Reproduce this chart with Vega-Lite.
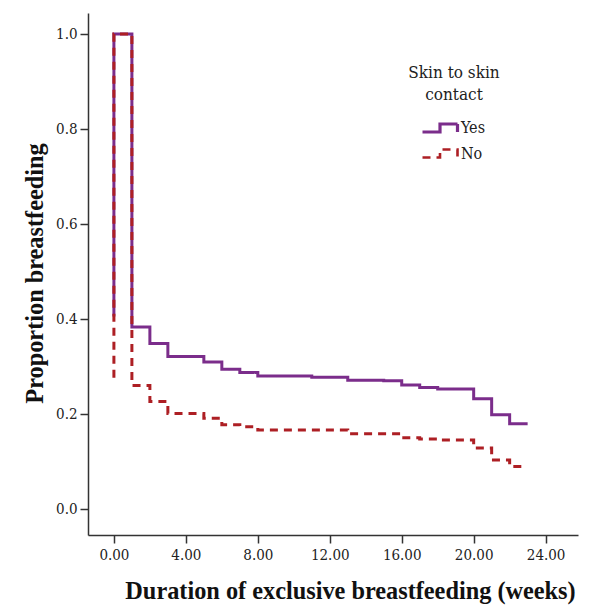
{
  "$schema": "https://vega.github.io/schema/vega-lite/v6.json",
  "autosize": "none",
  "width": 490,
  "height": 522,
  "padding": {"left": 88, "top": 13, "right": 16, "bottom": 71},
  "background": "white",
  "config": {
    "view": {"stroke": null},
    "axis": {"grid": false, "domainColor": "#333333", "tickColor": "#333333", "domainWidth": 1.5, "tickWidth": 1.5, "tickSize": 8,
      "labelFont": "DejaVu Serif Condensed, DejaVu Serif", "labelFontSize": 15, "labelColor": "#222222",
      "titleFont": "Liberation Serif", "titleFontSize": 24.3, "titleFontWeight": "bold", "titleColor": "#111111"}
  },
  "data": {"values": [
    {"g": "Yes", "i": 1, "t": 0, "p": 0.405},
    {"g": "Yes", "i": 2, "t": 0, "p": 1.0},
    {"g": "Yes", "i": 3, "t": 1, "p": 0.383},
    {"g": "Yes", "i": 4, "t": 2, "p": 0.348},
    {"g": "Yes", "i": 5, "t": 3, "p": 0.321},
    {"g": "Yes", "i": 6, "t": 5, "p": 0.309},
    {"g": "Yes", "i": 7, "t": 6, "p": 0.294},
    {"g": "Yes", "i": 8, "t": 7, "p": 0.287},
    {"g": "Yes", "i": 9, "t": 8, "p": 0.28},
    {"g": "Yes", "i": 10, "t": 11, "p": 0.277},
    {"g": "Yes", "i": 11, "t": 13, "p": 0.271},
    {"g": "Yes", "i": 12, "t": 15, "p": 0.2695},
    {"g": "Yes", "i": 13, "t": 16, "p": 0.261},
    {"g": "Yes", "i": 14, "t": 17, "p": 0.2555},
    {"g": "Yes", "i": 15, "t": 18, "p": 0.2526},
    {"g": "Yes", "i": 16, "t": 20, "p": 0.232},
    {"g": "Yes", "i": 17, "t": 21, "p": 0.198},
    {"g": "Yes", "i": 18, "t": 22, "p": 0.179},
    {"g": "Yes", "i": 19, "t": 23, "p": 0.179},
    {"g": "No", "i": 1, "t": 0, "p": 0.276},
    {"g": "No", "i": 2, "t": 0, "p": 1.0},
    {"g": "No", "i": 3, "t": 1, "p": 0.26},
    {"g": "No", "i": 4, "t": 2, "p": 0.226},
    {"g": "No", "i": 5, "t": 3, "p": 0.201},
    {"g": "No", "i": 6, "t": 5, "p": 0.191},
    {"g": "No", "i": 7, "t": 6, "p": 0.177},
    {"g": "No", "i": 8, "t": 7, "p": 0.173},
    {"g": "No", "i": 9, "t": 8, "p": 0.166},
    {"g": "No", "i": 10, "t": 13, "p": 0.158},
    {"g": "No", "i": 11, "t": 16, "p": 0.15},
    {"g": "No", "i": 12, "t": 17, "p": 0.147},
    {"g": "No", "i": 13, "t": 18, "p": 0.145},
    {"g": "No", "i": 14, "t": 20, "p": 0.128},
    {"g": "No", "i": 15, "t": 21, "p": 0.103},
    {"g": "No", "i": 16, "t": 22, "p": 0.089},
    {"g": "No", "i": 17, "t": 22.8, "p": 0.089}
  ]},
  "mark": {"type": "line", "interpolate": "step-after", "strokeWidth": 3},
  "encoding": {
    "x": {"field": "t", "type": "quantitative",
      "scale": {"domain": [-1.44, 25.8], "nice": false, "zero": false},
      "axis": {"values": [0, 4, 8, 12, 16, 20, 24], "format": ".2f", "labelPadding": 4,
        "title": "Duration of exclusive breastfeeding (weeks)", "titleX": 262, "titleY": 68, "titleBaseline": "bottom", "titleAnchor": "middle"}},
    "y": {"field": "p", "type": "quantitative",
      "scale": {"domain": [-0.055, 1.044], "nice": false, "zero": false},
      "axis": {"values": [0, 0.2, 0.4, 0.6, 0.8, 1.0], "format": ".1f", "labelPadding": 3,
        "title": "Proportion breastfeeding", "titleX": -41, "titleY": 260, "titleBaseline": "bottom", "titleAnchor": "middle"}},
    "order": {"field": "i", "type": "quantitative"},
    "color": {"field": "g", "type": "nominal",
      "scale": {"domain": ["Yes", "No"], "range": ["#7B2D8B", "#AD1F24"]},
      "legend": {"title": ["Skin to skin", "contact"], "orient": "none", "legendX": 320, "legendY": 52,
        "titleFont": "DejaVu Serif Condensed, DejaVu Serif", "titleFontSize": 17, "titleFontWeight": "normal", "titleAnchor": "middle", "titleAlign": "center", "titleColor": "#222222", "titlePadding": 12, "titleLineHeight": 22,
        "labelFont": "DejaVu Serif Condensed, DejaVu Serif", "labelFontSize": 16, "labelColor": "#222222", "labelOffset": 9,
        "symbolType": "M-1.75,0.4H0V-0.4H1.75V0.4", "symbolSize": 400, "symbolOffset": 5, "symbolStrokeWidth": 3, "symbolFillColor": "transparent", "rowPadding": 3}},
    "strokeDash": {"field": "g", "type": "nominal",
      "scale": {"domain": ["Yes", "No"], "range": [[1, 0], [8, 6]]},
      "legend": null},
    "strokeWidth": {"field": "g", "type": "nominal",
      "scale": {"domain": ["Yes", "No"], "range": [3.2, 2.6]},
      "legend": null}
  }
}
